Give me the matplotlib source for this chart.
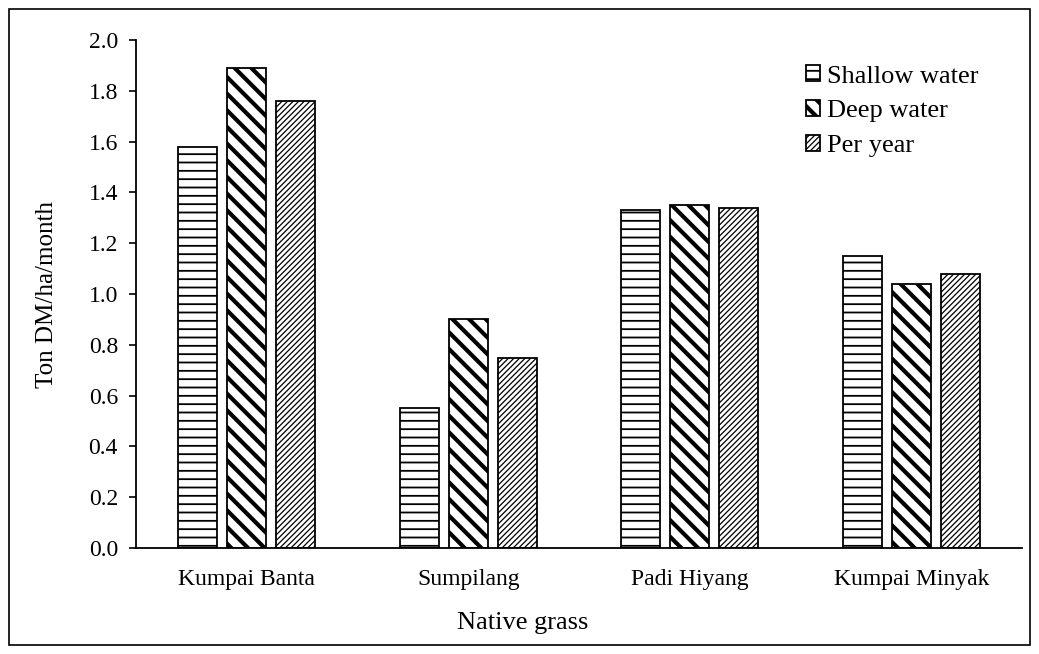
import numpy as np
import matplotlib.pyplot as plt
from matplotlib.patches import Rectangle

grasses = ['Kumpai Banta', 'Sumpilang', 'Padi Hiyang', 'Kumpai Minyak']
shallow = [1.58, 0.55, 1.33, 1.15]
deep = [1.89, 0.90, 1.35, 1.04]
per_year = [1.76, 0.75, 1.34, 1.08]
series_names = ['Shallow water', 'Deep water', 'Per year']

plt.rcParams['font.family'] = ['Liberation Serif', 'DejaVu Serif']

fig = plt.figure(figsize=(10.39, 6.54), dpi=100)
ax = fig.add_axes([136 / 1039, 1 - 548 / 654, (1022 - 136) / 1039, (548 - 40) / 654])

# outer frame round the whole chart
fig.patches.append(Rectangle((9 / 1039, 9 / 654), (1030 - 9) / 1039, (645 - 9) / 654,
                             transform=fig.transFigure, fill=False, edgecolor='black', linewidth=1.2))

x = np.arange(len(grasses))
step = 0.221
width = 0.176
hatches = ['--', '\\\\', '//////']
hatch_lw = [1.3, 3.0, 0.9]

for i, (vals, name) in enumerate(zip([shallow, deep, per_year], series_names)):
    bars = ax.bar(x + (i - 1) * step, vals, width, label=name, color='white',
                  edgecolor='black', linewidth=1.3, hatch=hatches[i])
    for b in bars:
        try:
            b.set_hatch_linewidth(hatch_lw[i])
        except AttributeError:
            pass

ax.set_xlim(-0.5, 3.5)
ax.set_ylim(0, 2.0)
ax.set_yticks(np.arange(0, 2.01, 0.2))
ax.set_yticklabels([f'{v:.1f}' for v in np.arange(0, 2.01, 0.2)])
ax.set_xticks(x)
ax.set_xticklabels(grasses)
ax.tick_params(axis='y', direction='out', length=5, width=1.2, labelsize=17, pad=8)
ax.tick_params(axis='x', length=0, labelsize=17, pad=15)
for s in ['top', 'right']:
    ax.spines[s].set_visible(False)
for s in ['left', 'bottom']:
    ax.spines[s].set_linewidth(1.3)

ax.set_ylabel('Ton DM/ha/month', fontsize=18, labelpad=22)
ax.set_xlabel('Native grass', fontsize=19, labelpad=16, x=0.436)

leg = ax.legend(loc='upper left', bbox_to_anchor=(0.756, 0.95), frameon=False, fontsize=19,
                handlelength=0.55, handleheight=0.55, handletextpad=0.25, labelspacing=0.47,
                borderaxespad=0, borderpad=0)
for h, lw in zip(leg.legend_handles, hatch_lw):
    try:
        h.set_hatch_linewidth(lw)
    except AttributeError:
        pass

fig.savefig('out.png', dpi=100)
